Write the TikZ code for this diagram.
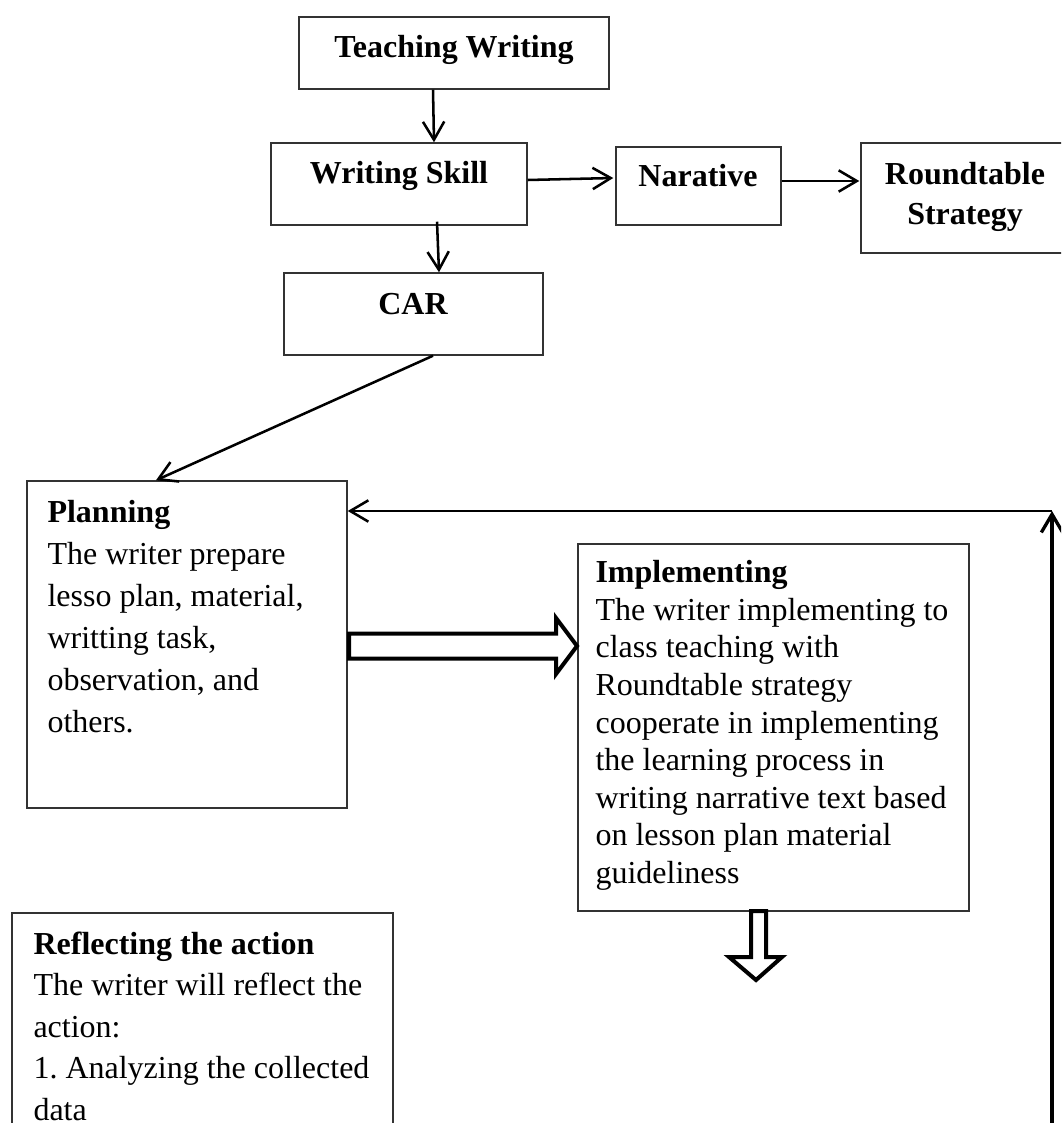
\documentclass[tikz,border=0pt]{standalone}
\usepackage{fontspec}
\setmainfont{Liberation Serif}
\usetikzlibrary{arrows.meta,fit,calc}
\frenchspacing
\tikzset{
  box/.style={draw=black!80, line width=0.55pt, inner sep=0pt},
  arr/.style={line width=0.95pt, -{Straight Barb[length=6.8pt,width=8pt]}},
  hollow/.style={draw=black, line width=1.5pt, fill=white, line join=miter},
  ttl/.style={inner sep=0pt, anchor=base, font=\fontsize{12}{15}\selectfont\bfseries},
  body/.style={inner sep=0pt, anchor=north west, align=left},
}
\begin{document}
\begin{tikzpicture}[x=0.375pt,y=-0.375pt]
\useasboundingbox (0,0) rectangle (1061,1123);
\clip (0,0) rectangle (1061,1123);

% boxes
\node[box, fit={(299,17)(609,89)}] (tw) {};
\node[box, fit={(271,143)(527,225)}] (ws) {};
\node[box, fit={(284,273)(543,355)}] (car) {};
\node[box, fit={(616,147)(781,225)}] (nar) {};
\node[box, fit={(861,143)(1075,253)}] (rt) {};
\node[box, fit={(27,481)(347,808)}] (plan) {};
\node[box, fit={(578,544)(969,911)}] (impl) {};
\node[box, fit={(12,913)(393,1150)}] (refl) {};

% titles
\node[ttl] (twt) at (454,58) {Teaching Writing};
\node[ttl] (wst) at (399,184) {Writing Skill};
\node[ttl] (cart) at (413,314) {CAR};
\node[ttl] (nart) at (698,187) {Narative};
\node[ttl, anchor=north, align=center] (rtt) at (965,162) {Roundtable\\Strategy};

% body texts
\node[body, font=\fontsize{12}{15.75}\selectfont] (plant) at (47,500)
  {\textbf{Planning}\\The writer prepare\\lesso plan, material,\\writting task,\\observation, and\\others.};
\node[body, font=\fontsize{12}{14.1}\selectfont] (implt) at (595,560)
  {\textbf{Implementing}\\The writer implementing to\\class teaching with\\Roundtable strategy\\cooperate in implementing\\the learning process in\\writing narrative text based\\on lesson plan material\\guideliness};
\node[body, font=\fontsize{12}{15.6}\selectfont] (reflt) at (33,931)
  {\textbf{Reflecting the action}\\The writer will reflect the\\action:\\1. Analyzing the collected\\data};

% connectors
\draw[arr] ($(tw.south)+(-21,0)$) -- ($(ws.north)+(35,0)$);
\draw[arr] ($(ws.south)+(38,-4)$) -- ($(car.north)+(25.5,0)$);
\draw[arr] ($(ws.east)+(0,-4)$) -- ($(nar.west)+(-2,-8)$);
\draw[arr] ($(nar.east)+(0,-5)$) -- ($(rt.west)+(-1,-17)$);
\draw[arr] ($(car.south)+(19.5,0)$) -- ($(plan.north)+(-31,0)$);

% feedback loop
\coordinate (fbbot) at (1052,1130);
\coordinate (fbtop) at (1052,511);
\draw[line width=1.25pt, -{Straight Barb[length=6.8pt,width=8pt]}] (fbbot) -- (fbtop);
\draw[arr] (fbtop) -- (plan.east |- fbtop);

% hollow arrows
\draw[hollow] (349,633.5) -- (556,633.5) -- (556,618) -- (577,646) -- (556,674) -- (556,658.5) -- (349,658.5) -- cycle;
\draw[hollow] (751,911) -- (751,957) -- (729,957) -- (756,980) -- (782,957) -- (766,957) -- (766,911) -- cycle;
\end{tikzpicture}
\end{document}
